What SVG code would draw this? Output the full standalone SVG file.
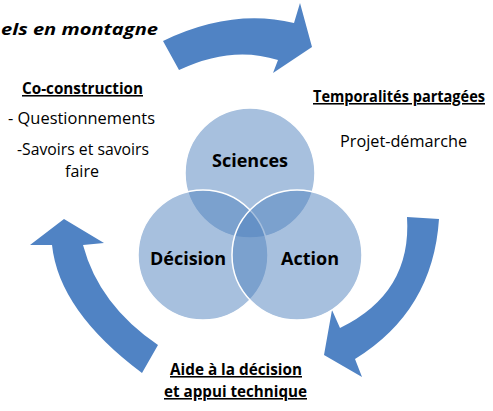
<svg xmlns="http://www.w3.org/2000/svg" width="493" height="411" viewBox="0 0 493 411">
<style>
.t{font-family:"Open Sans","Noto Sans","Liberation Sans",sans-serif;fill:#000;font-size:15.5px;}
.b{font-weight:bold;}
.u{text-decoration:underline;}
.c{fill:#4f81bd;fill-opacity:0.5;stroke:#fff;stroke-width:1.5;}
.lab{font-family:"Open Sans","Noto Sans","Liberation Sans",sans-serif;font-weight:bold;font-size:18px;fill:#000;text-anchor:middle;}
.arr{fill:#5083c4;stroke:none;}
</style>
<rect width="493" height="411" fill="#fff"/>
<g id="connectors">
<path class="arr" d="M163,41 Q231.5,8 294,23 L300,3 L312,47 L273,73 L278,60 Q231.5,45 179,70 Z"/>
<path class="arr" d="M158,345 Q99,305 83,245 L104,243 L64,219 L30,245 L52,245 Q59,311 142,373 Z"/>
<path class="arr" d="M407,217 Q412,293 340,328 L332,310 L324,355 L362,377 L355,359 Q433,311 439,219 Z"/>
</g>
<g id="title">
<text class="t b" x="1" y="35" font-size="20" font-style="italic" textLength="157" lengthAdjust="spacingAndGlyphs">els en montagne</text>
</g>
<g id="node-sciences">
<circle class="c" cx="250" cy="173" r="65"/>
<text class="lab" x="250" y="167">Sciences</text>
</g>
<g id="node-decision">
<circle class="c" cx="203" cy="255" r="65"/>
<text class="lab" x="188" y="265">Décision</text>
</g>
<g id="node-action">
<circle class="c" cx="297" cy="255" r="65"/>
<text class="lab" x="310" y="265">Action</text>
</g>
<g id="co-construction">
<text class="t b u" x="22" y="94" textLength="121" lengthAdjust="spacingAndGlyphs">Co-construction</text>
<text class="t" x="8" y="124" textLength="147" lengthAdjust="spacingAndGlyphs">- Questionnements</text>
<text class="t" x="17" y="155" textLength="132" lengthAdjust="spacingAndGlyphs">-Savoirs et savoirs</text>
<text class="t" x="65" y="177" textLength="34" lengthAdjust="spacingAndGlyphs">faire</text>
</g>
<g id="temporalites">
<text class="t b u" x="313" y="102" font-size="14" textLength="172" lengthAdjust="spacingAndGlyphs">Temporalités partagées</text>
<text class="t" x="340" y="147" textLength="127" lengthAdjust="spacingAndGlyphs">Projet-démarche</text>
</g>
<g id="aide">
<text class="t b u" x="170" y="375" textLength="132" lengthAdjust="spacingAndGlyphs">Aide à la décision</text>
<text class="t b u" x="164" y="397" textLength="143" lengthAdjust="spacingAndGlyphs">et appui technique</text>
</g>
</svg>
